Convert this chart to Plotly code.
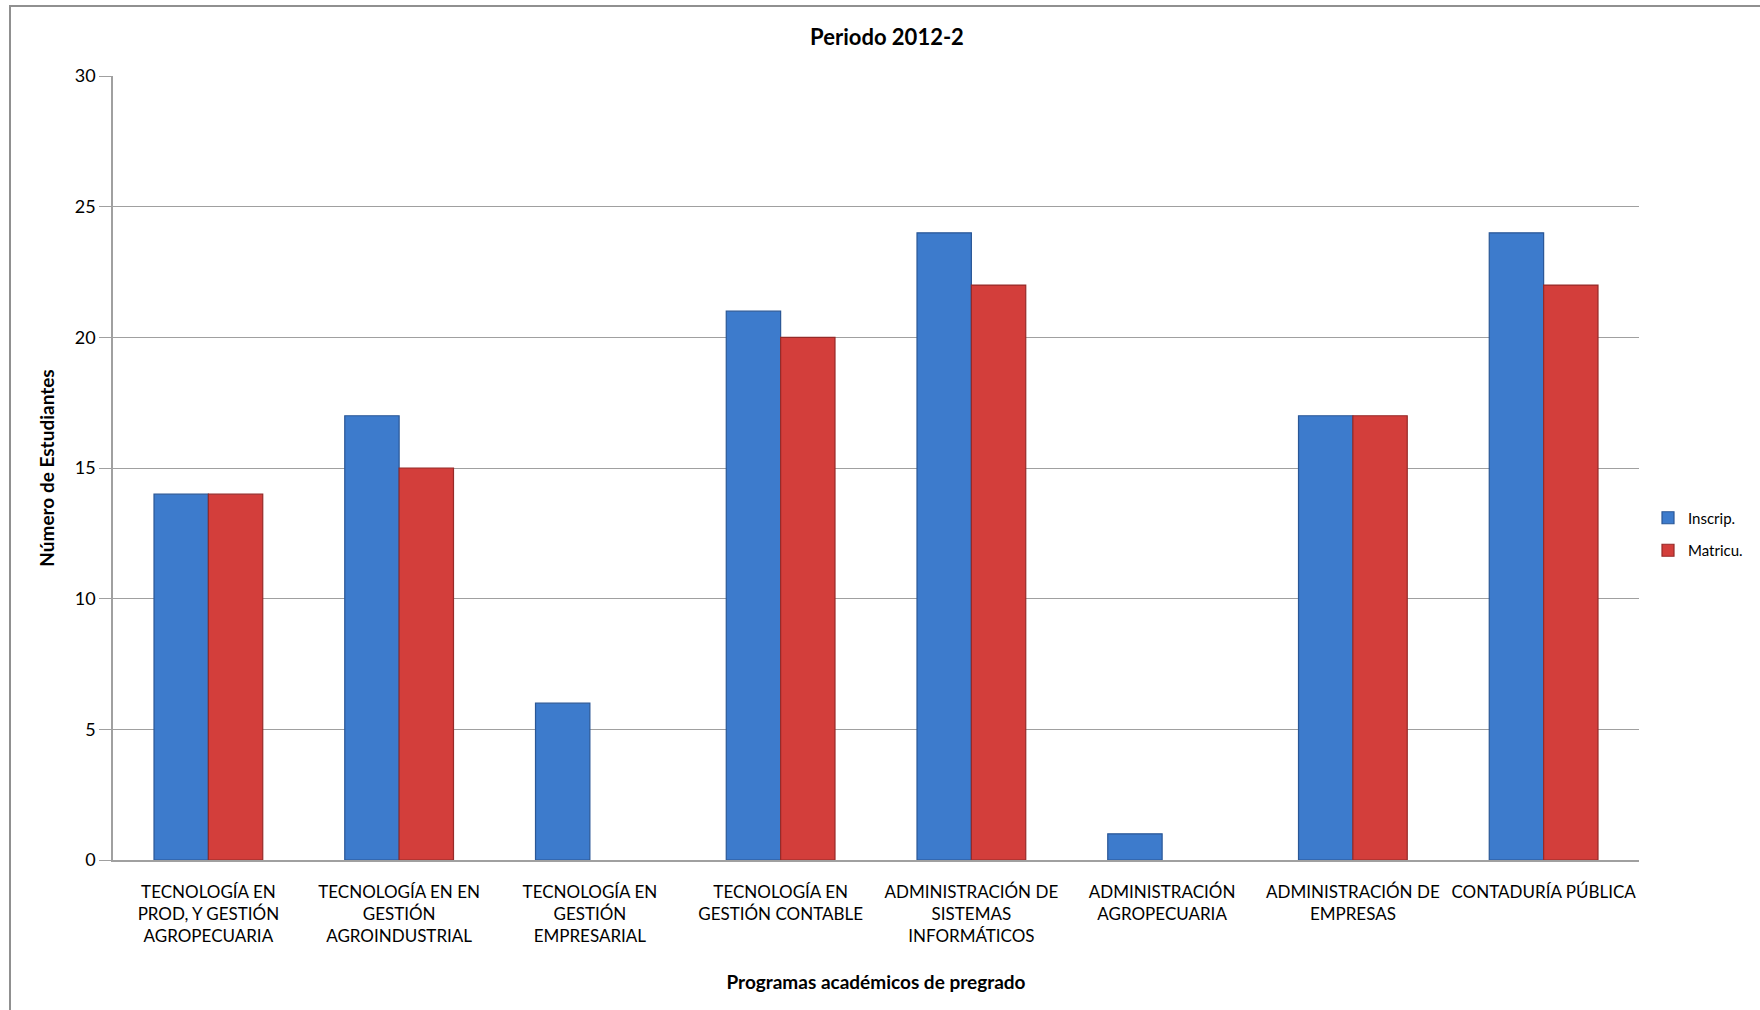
import plotly.graph_objects as go

categories = [
    "TECNOLOGÍA EN<br>PROD, Y GESTIÓN<br>AGROPECUARIA",
    "TECNOLOGÍA EN EN<br>GESTIÓN<br>AGROINDUSTRIAL",
    "TECNOLOGÍA EN<br>GESTIÓN<br>EMPRESARIAL",
    "TECNOLOGÍA EN<br>GESTIÓN CONTABLE",
    "ADMINISTRACIÓN DE<br>SISTEMAS<br>INFORMÁTICOS",
    "ADMINISTRACIÓN<br>AGROPECUARIA",
    "ADMINISTRACIÓN DE<br>EMPRESAS",
    "CONTADURÍA PÚBLICA",
]
inscrip = [14, 17, 6, 21, 24, 1, 17, 24]
matricu = [14, 15, 0, 20, 22, 0, 17, 22]

FONT = "Lato"
W, H = 1760, 1010
L, R, T, B = 113, 121, 76, 150


def px_x(p):
    return (p - L) / (W - L - R)


def px_y(p):
    return (H - B - p) / (H - T - B)


fig = go.Figure()
fig.add_trace(go.Bar(
    x=categories, y=inscrip, name="Inscrip.", legendgroup="a",
    marker=dict(color="#3d7bcc",
                line=dict(color="#2a5796", width=[1.2 if v > 0 else 0 for v in inscrip])),
))
fig.add_trace(go.Bar(
    x=categories, y=matricu, name="Matricu.", legendgroup="b",
    marker=dict(color="#d33e3b",
                line=dict(color="#962a28", width=[1.2 if v > 0 else 0 for v in matricu])),
))

fig.update_layout(
    width=W, height=H,
    barmode="group", bargap=0.43, bargroupgap=0,
    plot_bgcolor="white", paper_bgcolor="white",
    margin=dict(l=L, r=R, t=T, b=B, autoexpand=False),
    font=dict(family=FONT, size=17, color="black"),
    title=dict(text="<b>Periodo 2012-2</b>", x=px_x(887), xanchor="center", xref="paper",
               y=1 - 37 / H, yanchor="middle", font=dict(size=22, family=FONT)),
    legend=dict(x=px_x(1648), y=px_y(534), xanchor="left", yanchor="middle", font=dict(size=15),
                itemwidth=30, tracegroupgap=10, bgcolor="rgba(0,0,0,0)"),
    showlegend=True,
)
fig.update_xaxes(
    showline=True, linecolor="#a0a0a0", linewidth=1.5,
    ticks="", tickfont=dict(size=17), ticklabelstandoff=16,
    title=dict(text="<b>Programas académicos de pregrado</b>", font=dict(size=19), standoff=30),
)
fig.update_yaxes(
    range=[0, 30], dtick=5, showgrid=True, gridcolor="#a0a0a0", gridwidth=1,
    showline=True, linecolor="#a0a0a0", linewidth=1.5,
    ticks="outside", ticklen=12, tickcolor="#a0a0a0", tickfont=dict(size=18),
    title=dict(text="<b>Número de Estudiantes</b>", font=dict(size=19), standoff=15),
    zeroline=False,
)
fig.add_shape(type="rect", xref="paper", yref="paper",
              x0=px_x(10), x1=px_x(1780), y0=px_y(1030), y1=px_y(6),
              line=dict(color="#909090", width=2), fillcolor="rgba(0,0,0,0)", layer="below")

fig.write_html("out.html", config={"displayModeBar": False},
               post_script="document.body.style.margin='0';document.body.style.overflow='hidden';")
